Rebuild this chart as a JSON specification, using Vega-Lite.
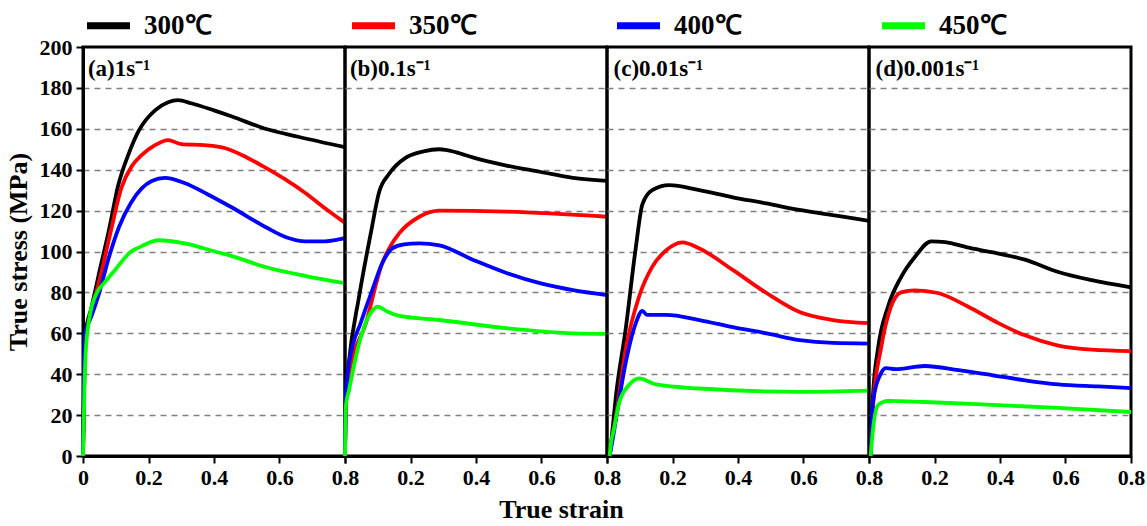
{
"$schema": "https://vega.github.io/schema/vega-lite/v6.json",
"padding": {"left": 3, "top": 0, "right": 10, "bottom": 0},
"background": "white",
"spacing": 0,
"bounds": "flush",
"datasets": {
"curves": [
{"rate":"1","T":"300℃","strain":0,"stress":0},{"rate":"1","T":"300℃","strain":0.004,"stress":40},{"rate":"1","T":"300℃","strain":0.008,"stress":60},{"rate":"1","T":"300℃","strain":0.025,"stress":72},{"rate":"1","T":"300℃","strain":0.05,"stress":90},{"rate":"1","T":"300℃","strain":0.08,"stress":111},{"rate":"1","T":"300℃","strain":0.107,"stress":132},{"rate":"1","T":"300℃","strain":0.14,"stress":148},{"rate":"1","T":"300℃","strain":0.17,"stress":159},{"rate":"1","T":"300℃","strain":0.22,"stress":169},{"rate":"1","T":"300℃","strain":0.26,"stress":173},{"rate":"1","T":"300℃","strain":0.29,"stress":174},{"rate":"1","T":"300℃","strain":0.33,"stress":172.5},{"rate":"1","T":"300℃","strain":0.4,"stress":169},{"rate":"1","T":"300℃","strain":0.455,"stress":166},{"rate":"1","T":"300℃","strain":0.557,"stress":160},{"rate":"1","T":"300℃","strain":0.66,"stress":156},{"rate":"1","T":"300℃","strain":0.8,"stress":151},
{"rate":"1","T":"350℃","strain":0,"stress":0},{"rate":"1","T":"350℃","strain":0.004,"stress":40},{"rate":"1","T":"350℃","strain":0.008,"stress":58},{"rate":"1","T":"350℃","strain":0.025,"stress":70},{"rate":"1","T":"350℃","strain":0.055,"stress":89},{"rate":"1","T":"350℃","strain":0.085,"stress":110},{"rate":"1","T":"350℃","strain":0.117,"stress":131},{"rate":"1","T":"350℃","strain":0.15,"stress":142},{"rate":"1","T":"350℃","strain":0.178,"stress":147},{"rate":"1","T":"350℃","strain":0.22,"stress":152},{"rate":"1","T":"350℃","strain":0.26,"stress":154.5},{"rate":"1","T":"350℃","strain":0.3,"stress":152.5},{"rate":"1","T":"350℃","strain":0.37,"stress":152},{"rate":"1","T":"350℃","strain":0.435,"stress":150.5},{"rate":"1","T":"350℃","strain":0.5,"stress":146},{"rate":"1","T":"350℃","strain":0.557,"stress":141},{"rate":"1","T":"350℃","strain":0.62,"stress":135},{"rate":"1","T":"350℃","strain":0.68,"stress":128.5},{"rate":"1","T":"350℃","strain":0.74,"stress":121},{"rate":"1","T":"350℃","strain":0.8,"stress":114},
{"rate":"1","T":"400℃","strain":0,"stress":0},{"rate":"1","T":"400℃","strain":0.003,"stress":40},{"rate":"1","T":"400℃","strain":0.007,"stress":60},{"rate":"1","T":"400℃","strain":0.025,"stress":68},{"rate":"1","T":"400℃","strain":0.05,"stress":80},{"rate":"1","T":"400℃","strain":0.077,"stress":96},{"rate":"1","T":"400℃","strain":0.11,"stress":112},{"rate":"1","T":"400℃","strain":0.147,"stress":124},{"rate":"1","T":"400℃","strain":0.18,"stress":131},{"rate":"1","T":"400℃","strain":0.21,"stress":134.5},{"rate":"1","T":"400℃","strain":0.25,"stress":136},{"rate":"1","T":"400℃","strain":0.31,"stress":133.5},{"rate":"1","T":"400℃","strain":0.38,"stress":128},{"rate":"1","T":"400℃","strain":0.455,"stress":121.5},{"rate":"1","T":"400℃","strain":0.557,"stress":112},{"rate":"1","T":"400℃","strain":0.62,"stress":107},{"rate":"1","T":"400℃","strain":0.68,"stress":105},{"rate":"1","T":"400℃","strain":0.74,"stress":105},{"rate":"1","T":"400℃","strain":0.8,"stress":106.5},
{"rate":"1","T":"450℃","strain":0,"stress":0},{"rate":"1","T":"450℃","strain":0.004,"stress":30},{"rate":"1","T":"450℃","strain":0.008,"stress":50},{"rate":"1","T":"450℃","strain":0.02,"stress":68},{"rate":"1","T":"450℃","strain":0.037,"stress":78},{"rate":"1","T":"450℃","strain":0.067,"stress":85},{"rate":"1","T":"450℃","strain":0.098,"stress":91},{"rate":"1","T":"450℃","strain":0.147,"stress":100},{"rate":"1","T":"450℃","strain":0.178,"stress":102.5},{"rate":"1","T":"450℃","strain":0.23,"stress":105.5},{"rate":"1","T":"450℃","strain":0.31,"stress":104},{"rate":"1","T":"450℃","strain":0.414,"stress":99.5},{"rate":"1","T":"450℃","strain":0.45,"stress":98},{"rate":"1","T":"450℃","strain":0.557,"stress":92.4},{"rate":"1","T":"450℃","strain":0.68,"stress":88},{"rate":"1","T":"450℃","strain":0.8,"stress":84.5},
{"rate":"0.1","T":"300℃","strain":0,"stress":0},{"rate":"0.1","T":"300℃","strain":0.003,"stress":30},{"rate":"0.1","T":"300℃","strain":0.012,"stress":46},{"rate":"0.1","T":"300℃","strain":0.043,"stress":78},{"rate":"0.1","T":"300℃","strain":0.08,"stress":110},{"rate":"0.1","T":"300℃","strain":0.104,"stress":129},{"rate":"0.1","T":"300℃","strain":0.135,"stress":138},{"rate":"0.1","T":"300℃","strain":0.187,"stress":146},{"rate":"0.1","T":"300℃","strain":0.24,"stress":149},{"rate":"0.1","T":"300℃","strain":0.288,"stress":150},{"rate":"0.1","T":"300℃","strain":0.34,"stress":148.5},{"rate":"0.1","T":"300℃","strain":0.39,"stress":146},{"rate":"0.1","T":"300℃","strain":0.493,"stress":142},{"rate":"0.1","T":"300℃","strain":0.595,"stress":139},{"rate":"0.1","T":"300℃","strain":0.696,"stress":136},{"rate":"0.1","T":"300℃","strain":0.8,"stress":134.5},
{"rate":"0.1","T":"350℃","strain":0,"stress":0},{"rate":"0.1","T":"350℃","strain":0.003,"stress":28},{"rate":"0.1","T":"350℃","strain":0.012,"stress":40},{"rate":"0.1","T":"350℃","strain":0.064,"stress":65},{"rate":"0.1","T":"350℃","strain":0.113,"stress":94},{"rate":"0.1","T":"350℃","strain":0.14,"stress":103},{"rate":"0.1","T":"350℃","strain":0.166,"stress":109},{"rate":"0.1","T":"350℃","strain":0.227,"stress":117},{"rate":"0.1","T":"350℃","strain":0.288,"stress":120},{"rate":"0.1","T":"350℃","strain":0.493,"stress":119.5},{"rate":"0.1","T":"350℃","strain":0.8,"stress":117},
{"rate":"0.1","T":"400℃","strain":0,"stress":0},{"rate":"0.1","T":"400℃","strain":0.003,"stress":30},{"rate":"0.1","T":"400℃","strain":0.012,"stress":45},{"rate":"0.1","T":"400℃","strain":0.05,"stress":66},{"rate":"0.1","T":"400℃","strain":0.083,"stress":81},{"rate":"0.1","T":"400℃","strain":0.113,"stress":94},{"rate":"0.1","T":"400℃","strain":0.144,"stress":101.5},{"rate":"0.1","T":"400℃","strain":0.18,"stress":103.5},{"rate":"0.1","T":"400℃","strain":0.227,"stress":104},{"rate":"0.1","T":"400℃","strain":0.288,"stress":103},{"rate":"0.1","T":"400℃","strain":0.39,"stress":96},{"rate":"0.1","T":"400℃","strain":0.493,"stress":89.5},{"rate":"0.1","T":"400℃","strain":0.595,"stress":84.5},{"rate":"0.1","T":"400℃","strain":0.7,"stress":81},{"rate":"0.1","T":"400℃","strain":0.8,"stress":78.7},
{"rate":"0.1","T":"450℃","strain":0,"stress":0},{"rate":"0.1","T":"450℃","strain":0.003,"stress":25},{"rate":"0.1","T":"450℃","strain":0.012,"stress":32},{"rate":"0.1","T":"450℃","strain":0.043,"stress":55},{"rate":"0.1","T":"450℃","strain":0.083,"stress":71},{"rate":"0.1","T":"450℃","strain":0.1,"stress":73},{"rate":"0.1","T":"450℃","strain":0.13,"stress":70.5},{"rate":"0.1","T":"450℃","strain":0.166,"stress":68.5},{"rate":"0.1","T":"450℃","strain":0.288,"stress":66.5},{"rate":"0.1","T":"450℃","strain":0.493,"stress":62.5},{"rate":"0.1","T":"450℃","strain":0.696,"stress":60},{"rate":"0.1","T":"450℃","strain":0.8,"stress":59.7},
{"rate":"0.01","T":"300℃","strain":0.008,"stress":0},{"rate":"0.01","T":"300℃","strain":0.015,"stress":10},{"rate":"0.01","T":"300℃","strain":0.027,"stress":29},{"rate":"0.01","T":"300℃","strain":0.057,"stress":62},{"rate":"0.01","T":"300℃","strain":0.088,"stress":102},{"rate":"0.01","T":"300℃","strain":0.108,"stress":123},{"rate":"0.01","T":"300℃","strain":0.138,"stress":130},{"rate":"0.01","T":"300℃","strain":0.19,"stress":132.5},{"rate":"0.01","T":"300℃","strain":0.282,"stress":130},{"rate":"0.01","T":"300℃","strain":0.384,"stress":126.5},{"rate":"0.01","T":"300℃","strain":0.487,"stress":123.5},{"rate":"0.01","T":"300℃","strain":0.588,"stress":120.3},{"rate":"0.01","T":"300℃","strain":0.7,"stress":117.5},{"rate":"0.01","T":"300℃","strain":0.8,"stress":115},
{"rate":"0.01","T":"350℃","strain":0.008,"stress":0},{"rate":"0.01","T":"350℃","strain":0.015,"stress":8},{"rate":"0.01","T":"350℃","strain":0.027,"stress":19},{"rate":"0.01","T":"350℃","strain":0.057,"stress":52},{"rate":"0.01","T":"350℃","strain":0.098,"stress":78},{"rate":"0.01","T":"350℃","strain":0.138,"stress":92.5},{"rate":"0.01","T":"350℃","strain":0.18,"stress":100.5},{"rate":"0.01","T":"350℃","strain":0.23,"stress":104.5},{"rate":"0.01","T":"350℃","strain":0.282,"stress":101.5},{"rate":"0.01","T":"350℃","strain":0.384,"stress":91},{"rate":"0.01","T":"350℃","strain":0.487,"stress":79.7},{"rate":"0.01","T":"350℃","strain":0.588,"stress":70.4},{"rate":"0.01","T":"350℃","strain":0.69,"stress":66.5},{"rate":"0.01","T":"350℃","strain":0.8,"stress":65},
{"rate":"0.01","T":"400℃","strain":0.008,"stress":0},{"rate":"0.01","T":"400℃","strain":0.015,"stress":6},{"rate":"0.01","T":"400℃","strain":0.027,"stress":17.6},{"rate":"0.01","T":"400℃","strain":0.057,"stress":45.5},{"rate":"0.01","T":"400℃","strain":0.088,"stress":65},{"rate":"0.01","T":"400℃","strain":0.108,"stress":71},{"rate":"0.01","T":"400℃","strain":0.122,"stress":69},{"rate":"0.01","T":"400℃","strain":0.18,"stress":69},{"rate":"0.01","T":"400℃","strain":0.282,"stress":66.5},{"rate":"0.01","T":"400℃","strain":0.384,"stress":63},{"rate":"0.01","T":"400℃","strain":0.487,"stress":60},{"rate":"0.01","T":"400℃","strain":0.588,"stress":56.7},{"rate":"0.01","T":"400℃","strain":0.69,"stress":55.3},{"rate":"0.01","T":"400℃","strain":0.8,"stress":55},
{"rate":"0.01","T":"450℃","strain":0.008,"stress":0},{"rate":"0.01","T":"450℃","strain":0.012,"stress":6},{"rate":"0.01","T":"450℃","strain":0.021,"stress":13},{"rate":"0.01","T":"450℃","strain":0.037,"stress":26},{"rate":"0.01","T":"450℃","strain":0.067,"stress":34.7},{"rate":"0.01","T":"450℃","strain":0.098,"stress":38},{"rate":"0.01","T":"450℃","strain":0.15,"stress":35},{"rate":"0.01","T":"450℃","strain":0.282,"stress":33},{"rate":"0.01","T":"450℃","strain":0.588,"stress":31.4},{"rate":"0.01","T":"450℃","strain":0.8,"stress":32},
{"rate":"0.001","T":"300℃","strain":0.005,"stress":0},{"rate":"0.001","T":"300℃","strain":0.012,"stress":29},{"rate":"0.001","T":"300℃","strain":0.028,"stress":53},{"rate":"0.001","T":"300℃","strain":0.058,"stress":73},{"rate":"0.001","T":"300℃","strain":0.098,"stress":87.5},{"rate":"0.001","T":"300℃","strain":0.14,"stress":97.3},{"rate":"0.001","T":"300℃","strain":0.19,"stress":105},{"rate":"0.001","T":"300℃","strain":0.233,"stress":104.6},{"rate":"0.001","T":"300℃","strain":0.3,"stress":102},{"rate":"0.001","T":"300℃","strain":0.374,"stress":99.7},{"rate":"0.001","T":"300℃","strain":0.476,"stress":96},{"rate":"0.001","T":"300℃","strain":0.578,"stress":90},{"rate":"0.001","T":"300℃","strain":0.68,"stress":86},{"rate":"0.001","T":"300℃","strain":0.8,"stress":82.5},
{"rate":"0.001","T":"350℃","strain":0.005,"stress":4},{"rate":"0.001","T":"350℃","strain":0.012,"stress":24},{"rate":"0.001","T":"350℃","strain":0.037,"stress":53},{"rate":"0.001","T":"350℃","strain":0.067,"stress":73},{"rate":"0.001","T":"350℃","strain":0.098,"stress":80},{"rate":"0.001","T":"350℃","strain":0.14,"stress":81},{"rate":"0.001","T":"350℃","strain":0.21,"stress":79.7},{"rate":"0.001","T":"350℃","strain":0.303,"stress":73},{"rate":"0.001","T":"350℃","strain":0.395,"stress":65},{"rate":"0.001","T":"350℃","strain":0.476,"stress":59},{"rate":"0.001","T":"350℃","strain":0.578,"stress":54},{"rate":"0.001","T":"350℃","strain":0.68,"stress":52},{"rate":"0.001","T":"350℃","strain":0.8,"stress":51.3},
{"rate":"0.001","T":"400℃","strain":0.005,"stress":0},{"rate":"0.001","T":"400℃","strain":0.012,"stress":26},{"rate":"0.001","T":"400℃","strain":0.037,"stress":40.6},{"rate":"0.001","T":"400℃","strain":0.052,"stress":43},{"rate":"0.001","T":"400℃","strain":0.08,"stress":42.5},{"rate":"0.001","T":"400℃","strain":0.17,"stress":44},{"rate":"0.001","T":"400℃","strain":0.273,"stress":42},{"rate":"0.001","T":"400℃","strain":0.374,"stress":39.6},{"rate":"0.001","T":"400℃","strain":0.476,"stress":37},{"rate":"0.001","T":"400℃","strain":0.578,"stress":35},{"rate":"0.001","T":"400℃","strain":0.7,"stress":34},{"rate":"0.001","T":"400℃","strain":0.8,"stress":33.2},
{"rate":"0.001","T":"450℃","strain":0.005,"stress":0},{"rate":"0.001","T":"450℃","strain":0.012,"stress":12.7},{"rate":"0.001","T":"450℃","strain":0.028,"stress":25},{"rate":"0.001","T":"450℃","strain":0.058,"stress":27},{"rate":"0.001","T":"450℃","strain":0.17,"stress":26.4},{"rate":"0.001","T":"450℃","strain":0.374,"stress":25},{"rate":"0.001","T":"450℃","strain":0.578,"stress":23.5},{"rate":"0.001","T":"450℃","strain":0.8,"stress":21.5}
]
},
"config": {
  "view": {"stroke": "black", "strokeWidth": 3},
  "axis": {
    "labelFont": "Liberation Serif", "labelFontWeight": "bold", "labelFontSize": 22, "labelColor": "black",
    "titleFont": "Liberation Serif", "titleFontWeight": "bold", "titleFontSize": 26, "titleColor": "black",
    "domainColor": "black", "domainWidth": 3, "tickColor": "black", "tickWidth": 2,
    "gridColor": "#808080", "gridDash": [6, 5], "gridWidth": 1.5
  },
  "legend": {
    "orient": "top", "direction": "horizontal", "title": null,
    "symbolType": "stroke", "symbolSize": 1850, "symbolStrokeWidth": 7,
    "labelFont": "Liberation Serif", "labelFontSize": 27, "labelFontWeight": "bold", "labelColor": "black",
    "labelOffset": 10, "columnPadding": 125, "offset": -6
  }
},
"hconcat": [
  {
    "width": 262, "height": 409,
    "layer": [
      {
        "data": {"name": "curves"},
        "transform": [{"filter": "datum.rate === '1'"}],
        "mark": {"type": "line", "strokeWidth": 3.8, "interpolate": "monotone"},
        "encoding": {
          "x": {"field": "strain", "type": "quantitative", "scale": {"domain": [0, 0.8], "nice": false, "zero": false},
                "axis": {"title": null, "grid": false, "values": [0, 0.1, 0.2, 0.3, 0.4, 0.5, 0.6, 0.7, 0.8], "format": ".1~f",
                         "labelExpr": "round(datum.value*10) % 2 === 0 ? datum.label : ''", "labelFlush": false, "labelOverlap": false, "labelPadding": 4,
                         "tickSize": {"condition": {"test": "round(datum.value*10) % 2 === 0", "value": 7}, "value": 4}}},
          "y": {"field": "stress", "type": "quantitative", "scale": {"domain": [0, 200], "nice": false},
                "axis": {"title": "True stress (MPa)", "grid": true, "values": [0, 10, 20, 30, 40, 50, 60, 70, 80, 90, 100, 110, 120, 130, 140, 150, 160, 170, 180, 190, 200],
                         "labelExpr": "datum.value % 20 === 0 ? datum.label : ''", "labelOverlap": false, "labelPadding": 4, "titlePadding": 8,
                         "gridOpacity": {"condition": {"test": "datum.value % 20 !== 0 || datum.value === 0 || datum.value === 200", "value": 0}, "value": 1},
                         "tickSize": {"condition": {"test": "datum.value % 20 === 0", "value": 7}, "value": 4}}},
          "color": {"field": "T", "type": "nominal",
                    "scale": {"domain": ["300℃", "350℃", "400℃", "450℃"], "range": ["#000000", "#ff0000", "#0000ff", "#00ff00"]}}
        }
      },
      {
        "data": {"values": [{"label": "(a)1s⁻¹"}]},
        "mark": {"type": "text", "align": "left", "baseline": "middle", "font": "Liberation Serif", "fontWeight": "bold", "fontSize": 23, "color": "black"},
        "encoding": {"x": {"datum": 0.015, "type": "quantitative"}, "y": {"datum": 189, "type": "quantitative"}, "text": {"field": "label"}}
      }
    ]
  },
  {
    "width": 262, "height": 409,
    "layer": [
      {
        "data": {"name": "curves"},
        "transform": [{"filter": "datum.rate === '0.1'"}],
        "mark": {"type": "line", "strokeWidth": 3.8, "interpolate": "monotone"},
        "encoding": {
          "x": {"field": "strain", "type": "quantitative", "scale": {"domain": [0, 0.8], "nice": false, "zero": false},
                "axis": {"title": "True strain", "titleX": 216, "titlePadding": 8, "grid": false, "values": [0, 0.1, 0.2, 0.3, 0.4, 0.5, 0.6, 0.7, 0.8], "format": ".1~f",
                         "labelExpr": "round(datum.value*10) % 2 === 0 && datum.value > 0 ? datum.label : ''", "labelFlush": false, "labelOverlap": false, "labelPadding": 4,
                         "tickSize": {"condition": {"test": "round(datum.value*10) % 2 === 0", "value": 7}, "value": 4}}},
          "y": {"field": "stress", "type": "quantitative", "scale": {"domain": [0, 200], "nice": false},
                "axis": {"title": null, "grid": true, "labels": false, "ticks": false, "domain": false, "values": [20, 40, 60, 80, 100, 120, 140, 160, 180]}},
          "color": {"field": "T", "type": "nominal",
                    "scale": {"domain": ["300℃", "350℃", "400℃", "450℃"], "range": ["#000000", "#ff0000", "#0000ff", "#00ff00"]}}
        }
      },
      {
        "data": {"values": [{"label": "(b)0.1s⁻¹"}]},
        "mark": {"type": "text", "align": "left", "baseline": "middle", "font": "Liberation Serif", "fontWeight": "bold", "fontSize": 23, "color": "black"},
        "encoding": {"x": {"datum": 0.015, "type": "quantitative"}, "y": {"datum": 189, "type": "quantitative"}, "text": {"field": "label"}}
      }
    ]
  },
  {
    "width": 262, "height": 409,
    "layer": [
      {
        "data": {"name": "curves"},
        "transform": [{"filter": "datum.rate === '0.01'"}],
        "mark": {"type": "line", "strokeWidth": 3.8, "interpolate": "monotone"},
        "encoding": {
          "x": {"field": "strain", "type": "quantitative", "scale": {"domain": [0, 0.8], "nice": false, "zero": false},
                "axis": {"title": null, "grid": false, "values": [0, 0.1, 0.2, 0.3, 0.4, 0.5, 0.6, 0.7, 0.8], "format": ".1~f",
                         "labelExpr": "round(datum.value*10) % 2 === 0 && datum.value > 0 ? datum.label : ''", "labelFlush": false, "labelOverlap": false, "labelPadding": 4,
                         "tickSize": {"condition": {"test": "round(datum.value*10) % 2 === 0", "value": 7}, "value": 4}}},
          "y": {"field": "stress", "type": "quantitative", "scale": {"domain": [0, 200], "nice": false},
                "axis": {"title": null, "grid": true, "labels": false, "ticks": false, "domain": false, "values": [20, 40, 60, 80, 100, 120, 140, 160, 180]}},
          "color": {"field": "T", "type": "nominal",
                    "scale": {"domain": ["300℃", "350℃", "400℃", "450℃"], "range": ["#000000", "#ff0000", "#0000ff", "#00ff00"]}}
        }
      },
      {
        "data": {"values": [{"label": "(c)0.01s⁻¹"}]},
        "mark": {"type": "text", "align": "left", "baseline": "middle", "font": "Liberation Serif", "fontWeight": "bold", "fontSize": 23, "color": "black"},
        "encoding": {"x": {"datum": 0.02, "type": "quantitative"}, "y": {"datum": 189, "type": "quantitative"}, "text": {"field": "label"}}
      }
    ]
  },
  {
    "width": 262, "height": 409,
    "layer": [
      {
        "data": {"name": "curves"},
        "transform": [{"filter": "datum.rate === '0.001'"}],
        "mark": {"type": "line", "strokeWidth": 3.8, "interpolate": "monotone"},
        "encoding": {
          "x": {"field": "strain", "type": "quantitative", "scale": {"domain": [0, 0.8], "nice": false, "zero": false},
                "axis": {"title": null, "grid": false, "values": [0, 0.1, 0.2, 0.3, 0.4, 0.5, 0.6, 0.7, 0.8], "format": ".1~f",
                         "labelExpr": "round(datum.value*10) % 2 === 0 && datum.value > 0 ? datum.label : ''", "labelFlush": false, "labelOverlap": false, "labelPadding": 4,
                         "tickSize": {"condition": {"test": "round(datum.value*10) % 2 === 0", "value": 7}, "value": 4}}},
          "y": {"field": "stress", "type": "quantitative", "scale": {"domain": [0, 200], "nice": false},
                "axis": {"title": null, "grid": true, "labels": false, "ticks": false, "domain": false, "values": [20, 40, 60, 80, 100, 120, 140, 160, 180]}},
          "color": {"field": "T", "type": "nominal",
                    "scale": {"domain": ["300℃", "350℃", "400℃", "450℃"], "range": ["#000000", "#ff0000", "#0000ff", "#00ff00"]}}
        }
      },
      {
        "data": {"values": [{"label": "(d)0.001s⁻¹"}]},
        "mark": {"type": "text", "align": "left", "baseline": "middle", "font": "Liberation Serif", "fontWeight": "bold", "fontSize": 23, "color": "black"},
        "encoding": {"x": {"datum": 0.02, "type": "quantitative"}, "y": {"datum": 189, "type": "quantitative"}, "text": {"field": "label"}}
      }
    ]
  }
]
}
